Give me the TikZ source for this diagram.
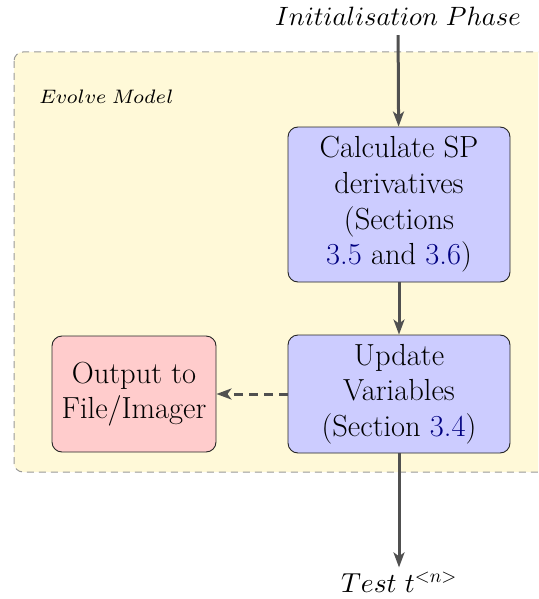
\documentclass[tikz,border=0pt]{standalone}
\DeclareFontShape{OML}{cmm}{m}{it}{<-6>cmmi5<6-9>cmmi7<9->cmmi10}{}
\DeclareFontShape{OT1}{cmr}{m}{n}{<-6>cmr5<6-9>cmr7<9->cmr10}{}
\usetikzlibrary{arrows.meta}
\definecolor{bgyellow}{HTML}{FFF9D8}
\definecolor{boxblue}{HTML}{CCCCFF}
\definecolor{boxpink}{HTML}{FFCCCC}
\definecolor{linegray}{HTML}{505050}
\definecolor{dashgray}{HTML}{999999}
\definecolor{refblue}{HTML}{000080}
\newcommand{\rf}[1]{\textcolor{refblue}{#1}}
\font\evfont=cmmi7 at 19.5pt
\begin{document}
\begin{tikzpicture}[x=1pt,y=-1pt,
  procbox/.style={draw=black!85,line width=0.9pt,rounded corners=10pt,align=center,
    font=\fontsize{30.5}{35.7}\selectfont,inner sep=0pt},
  conn/.style={draw=linegray,line width=3pt,-{Stealth[length=15pt,width=11pt,inset=4pt]}},
  lbl/.style={font=\fontsize{26.5}{30}\selectfont,inner sep=2pt}]
\useasboundingbox (0,0) rectangle (538,599);
\begin{scope}
\clip (0,0) rectangle (538,599);
\draw[dashgray,dashed,line width=1pt,dash pattern=on 7pt off 5pt,fill=bgyellow,rounded corners=9pt]
  (14,52) rectangle (560,472);
\end{scope}
\node[anchor=base west,inner sep=0pt] (ev) at (39,104) {\evfont Evolve\hspace{5.5pt}Model};
\node[procbox,fill=boxblue,minimum width=222pt,minimum height=155pt] (calc) at (399,204.5)
  {Calculate SP\\derivatives\\(Sections\\\rf{3.5} and \rf{3.6})};
\node[procbox,fill=boxblue,minimum width=222pt,minimum height=118pt] (upd) at (399,394)
  {Update\\Variables\\(Section \rf{3.4})};
\node[procbox,fill=boxpink,minimum width=164pt,minimum height=116pt] (out) at (134,394)
  {Output to\\File/Imager};
\node[lbl,anchor=base] (init) at (398,26) {$Initialisation\ Phase$};
\node[lbl,anchor=base,font=\fontsize{27.5}{30}\selectfont] (test) at (399,592) {$Test\ t^{<n>}$};
\draw[conn,shorten <=7pt] (init) -- (calc);
\draw[conn] (calc) -- (upd);
\draw[conn,dashed,dash pattern=on 9pt off 6pt] (upd) -- (out);
\draw[conn,shorten >=3pt] (upd) -- (test);
\end{tikzpicture}
\end{document}
